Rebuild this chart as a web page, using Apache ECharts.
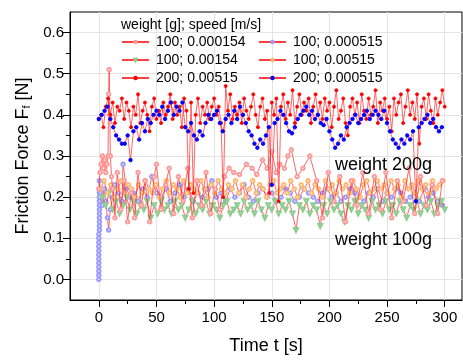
<!DOCTYPE html>
<html>
<head>
<meta charset="utf-8">
<script src="https://cdn.jsdelivr.net/npm/echarts@6/dist/echarts.min.js"></script>
<style>html,body{margin:0;padding:0;background:#fff}#c{width:463px;height:360px}</style>
</head>
<body>
<div id="c"></div>
<script>
// ---- tick labels ----
const xMajorTicks = [0, 50, 100, 150, 200, 250, 300];
const xMinorTicks = [25, 75, 125, 175, 225, 275];
const yMajorTicks = [0.0, 0.1, 0.2, 0.3, 0.4, 0.5, 0.6];
const yMinorTicks = [0.05, 0.15, 0.25, 0.35, 0.45, 0.55];

// ---- series names ----
const names = ['100; 0.000154', '100; 0.00154', '200; 0.00515', '100; 0.000515', '100; 0.00515', '200; 0.000515'];

// ---- 200 g, 0.00515 m/s (red dots), sampled every 2 s from t = 0 ----
const red200Start = 0, red200Step = 2;
const red200Values = [
  0.39, 0.40, 0.37, 0.42, 0.44, 0.40, 0.43, 0.38, 0.42, 0.41,
  0.44, 0.39, 0.43, 0.41, 0.37, 0.42, 0.40, 0.45, 0.38, 0.41,
  0.43, 0.40, 0.36, 0.42, 0.44, 0.39, 0.41, 0.38, 0.43, 0.40,
  0.42, 0.45, 0.39, 0.43, 0.40, 0.42, 0.37, 0.44, 0.41, 0.22,
  0.43, 0.21, 0.40, 0.44, 0.38, 0.42, 0.40, 0.43, 0.39, 0.42,
  0.44, 0.40, 0.42, 0.38, 0.20, 0.47, 0.41, 0.45, 0.39, 0.42,
  0.40, 0.43, 0.38, 0.44, 0.41, 0.39, 0.42, 0.45, 0.40, 0.37,
  0.42, 0.44, 0.39, 0.41, 0.21, 0.43, 0.40, 0.44, 0.19, 0.42,
  0.45, 0.39, 0.43, 0.40, 0.46, 0.38, 0.42, 0.45, 0.40, 0.43,
  0.41, 0.44, 0.38, 0.42, 0.45, 0.40, 0.43, 0.39, 0.44, 0.41,
  0.43, 0.37, 0.42, 0.46, 0.39, 0.41, 0.44, 0.38, 0.35, 0.42,
  0.44, 0.40, 0.43, 0.38, 0.45, 0.41, 0.39, 0.44, 0.40, 0.42,
  0.46, 0.38, 0.43, 0.41, 0.44, 0.39, 0.42, 0.36, 0.44, 0.40,
  0.43, 0.45, 0.38, 0.42, 0.46, 0.40, 0.43, 0.39, 0.45, 0.33,
  0.42, 0.44, 0.39, 0.45, 0.41, 0.38, 0.44, 0.40, 0.43, 0.46,
  0.42
];

// ---- 200 g, 0.000515 m/s (blue dots), sampled every 2.5 s from t = 0 ----
const blue200Start = 0, blue200Step = 2.5;
const blue200Values = [
  0.39, 0.40, 0.41, 0.42, 0.39, 0.37, 0.35, 0.34, 0.33, 0.33,
  0.35, 0.29, 0.36, 0.37, 0.34, 0.38, 0.36, 0.39, 0.38, 0.40,
  0.41, 0.40, 0.42, 0.39, 0.41, 0.43, 0.40, 0.42, 0.41, 0.43,
  0.37, 0.36, 0.38, 0.35, 0.34, 0.36, 0.35, 0.38, 0.40, 0.39,
  0.40, 0.41, 0.38, 0.36, 0.39, 0.40, 0.38, 0.41, 0.39, 0.42,
  0.40, 0.38, 0.36, 0.35, 0.33, 0.32, 0.34, 0.33, 0.35, 0.37,
  0.23, 0.38, 0.39, 0.41, 0.40, 0.38, 0.36, 0.355, 0.37, 0.39,
  0.40, 0.41, 0.42, 0.40, 0.41, 0.39, 0.40, 0.38, 0.375, 0.39,
  0.36, 0.34, 0.32, 0.33, 0.35, 0.34, 0.37, 0.38, 0.39, 0.40,
  0.38, 0.39, 0.40, 0.41, 0.39, 0.40, 0.41, 0.40, 0.39, 0.41,
  0.38, 0.36, 0.34, 0.33, 0.32, 0.34, 0.33, 0.35, 0.34, 0.36,
  0.19, 0.37, 0.38, 0.39, 0.40, 0.38, 0.39, 0.37, 0.36, 0.37
];

// ---- 100 g, 0.000154 m/s (pink open circles), irregular times ----
const pinkTimes = [
  0, 1, 2, 3, 4, 5, 6, 7, 8, 8.5,
  9, 9.5, 10, 11, 12, 14, 16, 19, 22, 25,
  28, 31, 34, 37, 40, 44, 48, 50, 54, 58,
  61, 65, 69, 73, 77, 81, 85, 89, 93, 97,
  101, 105, 109, 113, 117, 122, 128, 133, 137, 142,
  146, 150, 154, 157, 161, 164, 167, 172, 177, 183,
  189, 194, 199, 204, 209, 214, 219, 224, 229, 234,
  239, 244, 249, 254, 259, 264, 269, 274, 279, 284,
  289, 294, 298
];
const pinkValues = [
  0.22, 0.26, 0.28, 0.30, 0.27, 0.29, 0.26, 0.28, 0.30, 0.45,
  0.51, 0.40, 0.30, 0.25, 0.22, 0.15, 0.26, 0.17, 0.24, 0.14,
  0.21, 0.15, 0.26, 0.18, 0.24, 0.14, 0.25, 0.28, 0.17, 0.23,
  0.27, 0.16, 0.25, 0.19, 0.27, 0.15, 0.24, 0.18, 0.26, 0.16,
  0.22, 0.17, 0.25, 0.27, 0.26, 0.255, 0.28, 0.27, 0.255, 0.29,
  0.27, 0.31, 0.26, 0.28, 0.27, 0.30, 0.315, 0.25, 0.27, 0.30,
  0.24, 0.15, 0.26, 0.19, 0.25, 0.14, 0.24, 0.18, 0.26, 0.16,
  0.25, 0.17, 0.26, 0.15, 0.24, 0.19, 0.27, 0.16, 0.25, 0.18,
  0.23, 0.16, 0.24
];

// ---- 100 g, 0.00154 m/s (green open triangles), every 3 s from t = 3 ----
const greenStart = 3, greenStep = 3;
const greenValues = [
  0.20, 0.18, 0.21, 0.17, 0.19, 0.16, 0.18, 0.20, 0.17, 0.19,
  0.16, 0.18, 0.17, 0.19, 0.15, 0.18, 0.16, 0.19, 0.17, 0.18,
  0.16, 0.19, 0.17, 0.18, 0.15, 0.17, 0.19, 0.16, 0.18, 0.17,
  0.19, 0.16, 0.18, 0.17, 0.15, 0.18, 0.19, 0.16, 0.17, 0.18,
  0.16, 0.19, 0.17, 0.18, 0.16, 0.19, 0.17, 0.15, 0.18, 0.17,
  0.19, 0.16, 0.18, 0.17, 0.19, 0.16, 0.12, 0.18, 0.17, 0.19,
  0.16, 0.18, 0.17, 0.13, 0.18, 0.16, 0.19, 0.17, 0.18, 0.16,
  0.14, 0.18, 0.17, 0.19, 0.16, 0.18, 0.17, 0.15, 0.19, 0.17,
  0.18, 0.16, 0.19, 0.17, 0.18, 0.16, 0.19, 0.17, 0.15, 0.18,
  0.17, 0.19, 0.16, 0.18, 0.17, 0.19, 0.16, 0.18, 0.19, 0.17
];

// ---- 100 g, 0.000515 m/s (lavender open circles), irregular times ----
const lavTimes = [
  0, 0, 0, 0, 0, 0, 0, 0, 0, 0, 0, 0,
  0.5, 0.5, 0.5, 0.5, 0.5, 0.5, 0.5, 0.5, 0.5, 0.5, 0.5, 0.5,
  1.5, 3, 4.5, 6, 7.5, 8.5, 10, 12, 14, 17,
  20, 21, 24, 27, 30, 34, 38, 42, 46, 50,
  54, 58, 62, 66, 70, 74, 78, 82, 86, 90,
  94, 98, 102, 106, 110, 114, 118, 122, 126, 130,
  134, 138, 142, 146, 150, 154, 158, 162, 166, 170,
  174, 178, 182, 186, 190, 194, 198, 202, 206, 210,
  214, 218, 222, 226, 230, 234, 238, 242, 246, 250,
  254, 258, 262, 266, 270, 274, 278, 282, 286, 290,
  294, 298
];
const lavValues = [
  0.00, 0.01, 0.02, 0.03, 0.04, 0.05, 0.06, 0.07, 0.08, 0.09, 0.10, 0.11,
  0.12, 0.13, 0.14, 0.15, 0.16, 0.17, 0.18, 0.19, 0.20, 0.21, 0.22, 0.24,
  0.21, 0.18, 0.22, 0.19, 0.15, 0.12, 0.17, 0.20, 0.23, 0.21,
  0.19, 0.28, 0.22, 0.20, 0.21, 0.19, 0.22, 0.20, 0.25, 0.21,
  0.20, 0.22, 0.19, 0.21, 0.23, 0.20, 0.22, 0.19, 0.21, 0.20,
  0.22, 0.24, 0.20, 0.21, 0.19, 0.22, 0.20, 0.21, 0.23, 0.20,
  0.19, 0.21, 0.22, 0.20, 0.21, 0.19, 0.20, 0.22, 0.21, 0.19,
  0.20, 0.22, 0.21, 0.20, 0.19, 0.21, 0.22, 0.20, 0.21, 0.19,
  0.20, 0.22, 0.21, 0.20, 0.19, 0.21, 0.20, 0.22, 0.19, 0.21,
  0.20, 0.22, 0.21, 0.19, 0.20, 0.21, 0.19, 0.22, 0.20, 0.21,
  0.19, 0.18
];

// ---- 100 g, 0.00515 m/s (orange open circles), every 3 s from t = 1.5 ----
const orangeStart = 1.5, orangeStep = 3;
const orangeValues = [
  0.22, 0.24, 0.21, 0.23, 0.20, 0.22, 0.24, 0.21, 0.23, 0.22,
  0.20, 0.23, 0.21, 0.24, 0.22, 0.21, 0.23, 0.20, 0.22, 0.24,
  0.21, 0.23, 0.22, 0.20, 0.24, 0.21, 0.23, 0.22, 0.21, 0.24,
  0.22, 0.20, 0.23, 0.21, 0.24, 0.22, 0.21, 0.23, 0.22, 0.24,
  0.21, 0.23, 0.20, 0.22, 0.24, 0.21, 0.23, 0.22, 0.20, 0.23,
  0.24, 0.21, 0.22, 0.23, 0.21, 0.24, 0.22, 0.20, 0.23, 0.22,
  0.24, 0.21, 0.23, 0.22, 0.20, 0.24, 0.22, 0.23, 0.21, 0.24,
  0.22, 0.23, 0.21, 0.24, 0.22, 0.20, 0.23, 0.24, 0.21, 0.22,
  0.24, 0.22, 0.23, 0.21, 0.24, 0.22, 0.23, 0.20, 0.24, 0.22,
  0.23, 0.21, 0.24, 0.22, 0.23, 0.21, 0.24, 0.22, 0.23, 0.24
];

// ---- build data pairs ----
const regular = (start, step, vals) => vals.map((v, i) => [start + i * step, v]);
const paired = (ts, vals) => ts.map((t, i) => [t, vals[i]]);

const FONT = '"Liberation Sans", Arial, sans-serif';
const LINE = 'rgba(255,30,30,0.85)';

function lineSeries(name, data, symbol, size, color, z, extra) {
  return Object.assign({
    name, type: 'line', data, symbol, symbolSize: size, showAllSymbol: true,
    xAxisIndex: 0, yAxisIndex: 0, z,
    lineStyle: { color: LINE, width: 0.8 },
    itemStyle: { color: color, borderColor: color, borderWidth: 0.9 },
    emphasis: { disabled: true }, animation: false
  }, extra || {});
}

const chart = echarts.init(document.getElementById('c'));
const axisLineStyle = { color: '#000', width: 1 };
const legendCommon = {
  orient: 'vertical', top: 35, itemWidth: 27, itemHeight: 3, itemGap: 4, padding: 0,
  selectedMode: false, textStyle: { fontSize: 14, color: '#000', fontFamily: FONT, padding: [0, 0, 0, 2] }
};
chart.setOption({
  backgroundColor: '#fff',
  animation: false,
  textStyle: { fontFamily: FONT },
  grid: { left: 70, right: 1, top: 12, bottom: 55, show: true, borderColor: '#000', borderWidth: 1, backgroundColor: 'transparent' },
  title: {
    text: 'weight [g]; speed [m/s]', left: 121, top: 18, padding: 0,
    textStyle: { fontSize: 14, fontWeight: 'normal', color: '#000', fontFamily: FONT }
  },
  legend: [
    Object.assign({ data: [names[0], names[1], names[2]], left: 121 }, legendCommon),
    Object.assign({ data: [names[3], names[4], names[5]], left: 258 }, legendCommon)
  ],
  xAxis: [
    {
      type: 'value', min: -25, max: 315, position: 'bottom',
      name: 'Time t [s]', nameLocation: 'middle', nameGap: 37,
      nameTextStyle: { fontSize: 18, color: '#000', fontFamily: FONT },
      axisLine: { show: true, onZero: false, lineStyle: axisLineStyle },
      axisTick: { show: true, length: 7, lineStyle: axisLineStyle, customValues: xMajorTicks },
      axisLabel: { show: true, fontSize: 15, color: '#000', margin: 10, customValues: xMajorTicks },
      splitLine: { show: true, lineStyle: { color: '#e4e4e4', width: 1 } }
    },
    {
      type: 'value', min: -25, max: 315, position: 'bottom',
      axisLine: { show: false, onZero: false },
      axisTick: { show: true, length: 4, lineStyle: axisLineStyle, customValues: xMinorTicks },
      axisLabel: { show: false },
      splitLine: { show: false }
    }
  ],
  yAxis: [
    {
      type: 'value', min: -0.05, max: 0.65, position: 'left',
      name: 'Friction Force F{sub|f} [N]', nameLocation: 'middle', nameGap: 32,
      nameTextStyle: {
        fontSize: 18, color: '#000', fontFamily: FONT,
        rich: { sub: { fontSize: 11, color: '#000', fontFamily: FONT, verticalAlign: 'bottom', padding: [8, 0, 0, 0] } }
      },
      axisLine: { show: true, onZero: false, lineStyle: axisLineStyle },
      axisTick: { show: true, length: 7, lineStyle: axisLineStyle, customValues: yMajorTicks },
      axisLabel: { show: true, fontSize: 15, color: '#000', margin: 6, customValues: yMajorTicks, formatter: v => v.toFixed(1) },
      splitLine: { show: true, lineStyle: { color: '#e4e4e4', width: 1 } }
    },
    {
      type: 'value', min: -0.05, max: 0.65, position: 'left',
      axisLine: { show: false, onZero: false },
      axisTick: { show: true, length: 4, lineStyle: axisLineStyle, customValues: yMinorTicks },
      axisLabel: { show: false },
      splitLine: { show: false }
    }
  ],
  graphic: [
    { type: 'text', left: 335, top: 156, style: { text: 'weight 200g', font: '18px ' + FONT, fill: '#000' }, z: 100 },
    { type: 'text', left: 335, top: 231, style: { text: 'weight 100g', font: '18px ' + FONT, fill: '#000' }, z: 100 }
  ],
  series: [
    lineSeries(names[3], paired(lavTimes, lavValues), 'emptyCircle', 3.5, '#9a9aff', 2),
    lineSeries(names[1], regular(greenStart, greenStep, greenValues), 'emptyTriangle', 4, '#8ccc8c', 3, { symbolRotate: 180 }),
    lineSeries(names[4], regular(orangeStart, orangeStep, orangeValues), 'emptyCircle', 3.5, '#ffb870', 3),
    lineSeries(names[0], paired(pinkTimes, pinkValues), 'emptyCircle', 3.5, '#ff9a9a', 4),
    lineSeries(names[2], regular(red200Start, red200Step, red200Values), 'circle', 3, '#ff0000', 5),
    lineSeries(names[5], regular(blue200Start, blue200Step, blue200Values), 'circle', 3.5, '#0000ff', 6)
  ]
});
</script>
</body>
</html>
